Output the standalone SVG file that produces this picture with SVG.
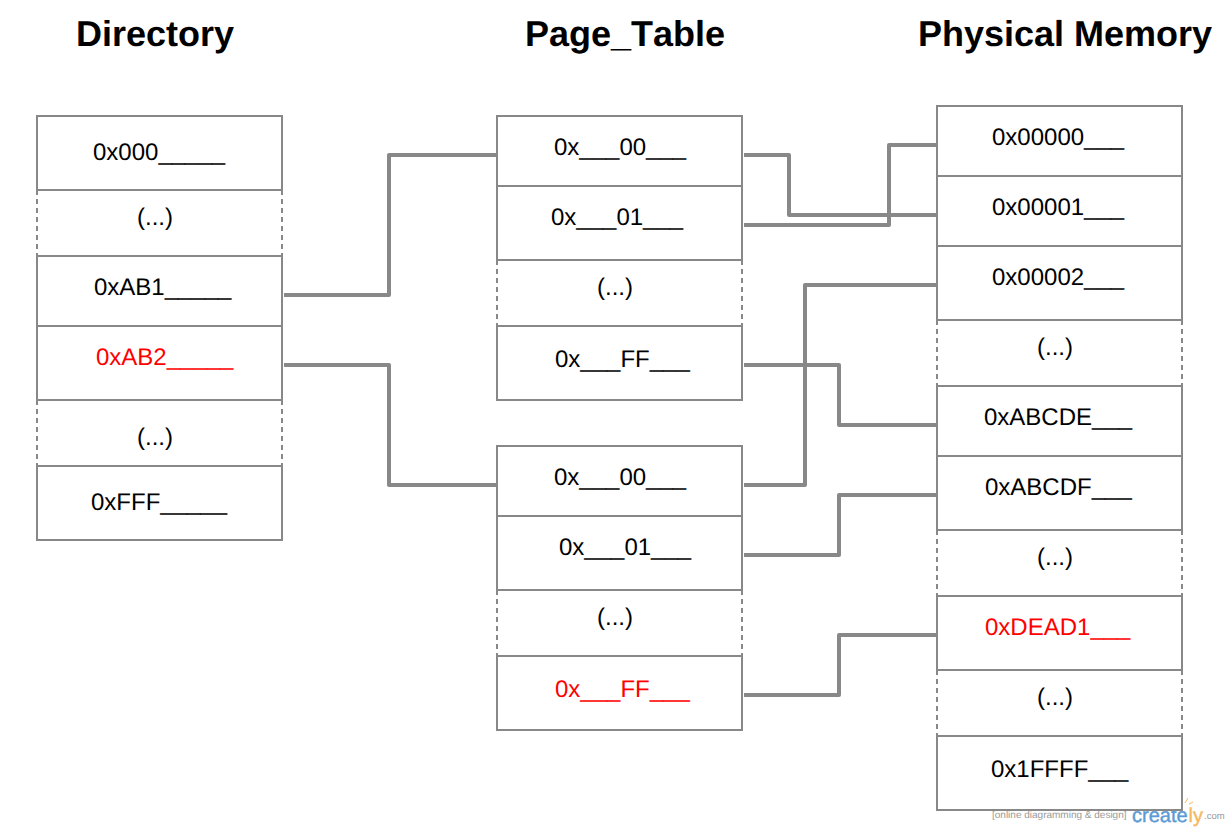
<svg xmlns="http://www.w3.org/2000/svg" width="1230" height="830" viewBox="0 0 1230 830">
<style>
text{font-family:"Liberation Sans",Arial,sans-serif;font-size:24px;fill:#000;text-rendering:geometricPrecision}
.title{font-size:36px;font-weight:bold;font-kerning:none}
.red{fill:#f00}
.cell{fill:#fff;stroke:#888;stroke-width:2}
.gap{fill:none;stroke:#888;stroke-width:2;stroke-dasharray:5 4}
.conn{fill:none;stroke:#888;stroke-width:4;stroke-linejoin:round}
.small{font-size:10px;fill:#999}
.logo{font-size:20px;fill:#5b9bd5;stroke:#5b9bd5;stroke-width:.4}
.logo2{font-size:20px;fill:#f5b95f;stroke:#f5b95f;stroke-width:.4}
.ray{stroke:#f5b95f;stroke-width:1;fill:none}
</style>
<rect width="1230" height="830" fill="#fff"/>
<g id="logo">
<text class="small" x="992" y="818">[online diagramming &amp; design]</text>
<text class="logo" x="1132" y="822">create</text>
<text class="logo2" x="1188.5" y="822">ly</text>
<text class="small" x="1204" y="819" style="font-size:9.5px">.com</text>
<path class="ray" d="M1185 803l3-5M1189 804l4-2M1181 806l1-2"/>
</g>
<g id="titles">
<text class="title" x="76" y="46">Directory</text>
<text class="title" x="525" y="46">Page_Table</text>
<text class="title" x="918" y="46">Physical Memory</text>
</g>
<g id="directory">
<g id="dir-000"><rect class="cell" x="37" y="116" width="245" height="74"/><text x="93" y="160">0x000_____</text></g>
<g id="dir-gap1"><path class="gap" d="M37 190V256M282 190V256"/><text x="137" y="225">(...)</text></g>
<g id="dir-ab1"><rect class="cell" x="37" y="256" width="245" height="70"/><text x="94" y="295">0xAB1_____</text></g>
<g id="dir-ab2"><rect class="cell" x="37" y="326" width="245" height="74"/><text class="red" x="96" y="365">0xAB2_____</text></g>
<g id="dir-gap2"><path class="gap" d="M37 400V466M282 400V466"/><text x="137" y="445">(...)</text></g>
<g id="dir-fff"><rect class="cell" x="37" y="466" width="245" height="74"/><text x="91" y="510">0xFFF_____</text></g>
</g>
<g id="page-table-1">
<g id="pt1-00"><rect class="cell" x="497" y="116" width="245" height="70"/><text x="554" y="155">0x___00___</text></g>
<g id="pt1-01"><rect class="cell" x="497" y="186" width="245" height="74"/><text x="551" y="225">0x___01___</text></g>
<g id="pt1-gap"><path class="gap" d="M497 260V326M742 260V326"/><text x="597" y="295">(...)</text></g>
<g id="pt1-ff"><rect class="cell" x="497" y="326" width="245" height="74"/><text x="555" y="367">0x___FF___</text></g>
</g>
<g id="page-table-2">
<g id="pt2-00"><rect class="cell" x="497" y="446" width="245" height="70"/><text x="554" y="485">0x___00___</text></g>
<g id="pt2-01"><rect class="cell" x="497" y="516" width="245" height="74"/><text x="559" y="555">0x___01___</text></g>
<g id="pt2-gap"><path class="gap" d="M497 590V656M742 590V656"/><text x="597" y="625">(...)</text></g>
<g id="pt2-ff"><rect class="cell" x="497" y="656" width="245" height="74"/><text class="red" x="555" y="697">0x___FF___</text></g>
</g>
<g id="physical-memory">
<g id="pm-00000"><rect class="cell" x="937" y="106" width="245" height="70"/><text x="992" y="145">0x00000___</text></g>
<g id="pm-00001"><rect class="cell" x="937" y="176" width="245" height="70"/><text x="992" y="215">0x00001___</text></g>
<g id="pm-00002"><rect class="cell" x="937" y="246" width="245" height="74"/><text x="992" y="285">0x00002___</text></g>
<g id="pm-gap1"><path class="gap" d="M937 320V386M1182 320V386"/><text x="1037" y="355">(...)</text></g>
<g id="pm-abcde"><rect class="cell" x="937" y="386" width="245" height="70"/><text x="984" y="425">0xABCDE___</text></g>
<g id="pm-abcdf"><rect class="cell" x="937" y="456" width="245" height="74"/><text x="985" y="495">0xABCDF___</text></g>
<g id="pm-gap2"><path class="gap" d="M937 530V596M1182 530V596"/><text x="1037" y="565">(...)</text></g>
<g id="pm-dead1"><rect class="cell" x="937" y="596" width="245" height="74"/><text class="red" x="985" y="635">0xDEAD1___</text></g>
<g id="pm-gap3"><path class="gap" d="M937 670V736M1182 670V736"/><text x="1037" y="705">(...)</text></g>
<g id="pm-1ffff"><rect class="cell" x="937" y="736" width="245" height="74"/><text x="991" y="777">0x1FFFF___</text></g>
</g>
<g id="connectors">
<path class="conn" d="M284 295H389V155H497"/>
<path class="conn" d="M284 365H389V485H497"/>
<path class="conn" d="M744 155H789V215H937"/>
<path class="conn" d="M744 225H889V145H937"/>
<path class="conn" d="M744 365H839V425H937"/>
<path class="conn" d="M744 485H805V285H937"/>
<path class="conn" d="M744 555H839V495H937"/>
<path class="conn" d="M744 695H839V635H937"/>
</g>
</svg>
